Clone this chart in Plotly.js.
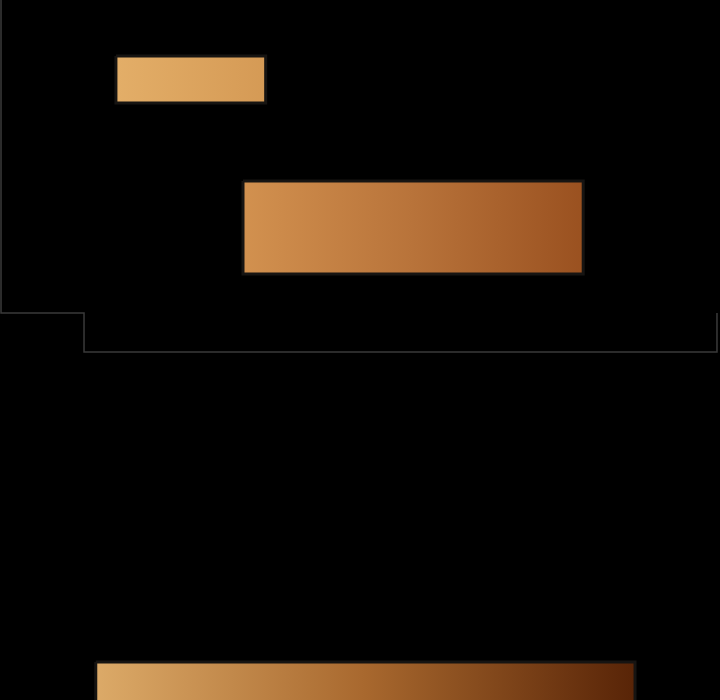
<!DOCTYPE html>
<html>
<head>
<meta charset="utf-8">
<script src="https://cdn.plot.ly/plotly-3.0.1.min.js"></script>
<style>
  html, body { margin: 0; padding: 0; background: #000; }
  #chart { width: 720px; height: 700px; }
</style>
</head>
<body>
<div id="chart"></div>
<script>
// ---- data ----
const tasks = ['Task A', 'Task B', 'Task C'];
const startValues = [16.1, 33.75, 13.3];
const endValues = [36.9, 81.0, 88.2];
const rowLow = [0.56, 1.81, 6.62];
const rowHigh = [1.03, 2.74, 7.6];

// ---- styles ----
const gradients = [
  [[0, '#e3ae68'], [1, '#d59a55']],
  [[0, '#d2914f'], [0.5, '#b8733a'], [1, '#9a5120']],
  [[0, '#dcaa68'], [0.5, '#a8682e'], [1, '#582407']]
];

const traces = tasks.map(function (name, i) {
  const s = startValues[i], e = endValues[i];
  const lo = rowLow[i], hi = rowHigh[i];
  return {
    type: 'scatter',
    mode: 'lines',
    name: name,
    x: [s, e, e, s, s],
    y: [lo, lo, hi, hi, lo],
    fill: 'toself',
    fillgradient: { type: 'horizontal', colorscale: gradients[i] },
    line: { color: '#161412', width: 3 },
    hoverinfo: 'name'
  };
});

const layout = {
  width: 720,
  height: 700,
  margin: { l: 0, r: 0, t: 0, b: 0, pad: 0 },
  paper_bgcolor: '#000000',
  plot_bgcolor: '#000000',
  showlegend: false,
  xaxis: { range: [0, 100], visible: false, fixedrange: true },
  yaxis: { range: [7, 0], visible: false, fixedrange: true },
  shapes: [{
    type: 'path',
    xref: 'x', yref: 'y',
    path: 'M0.14,0 L0.14,3.13 L11.67,3.13 L11.67,3.52 L99.58,3.52 L99.58,3.13',
    line: { color: '#3a3a3a', width: 1.5 },
    layer: 'below'
  }]
};

Plotly.newPlot('chart', traces, layout, { displayModeBar: false, staticPlot: true });
</script>
</body>
</html>
